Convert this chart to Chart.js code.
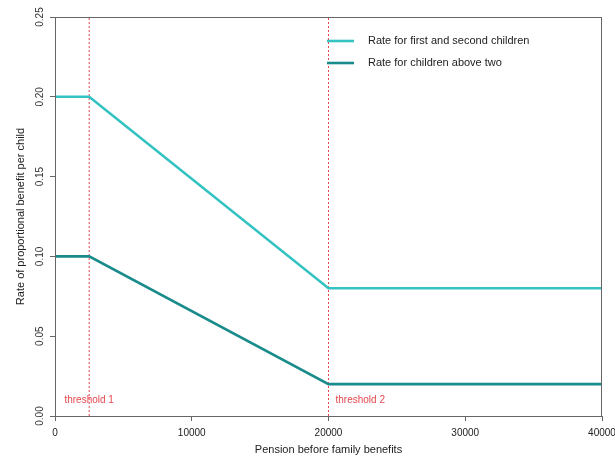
<!DOCTYPE html>
<html lang="en">
<head>
    <meta charset="utf-8">
    <title>Proportional benefit per child</title>
    <script src="https://cdn.jsdelivr.net/npm/chart.js@4.4.0/dist/chart.umd.min.js"></script>
    <style>
        body { margin: 0; background: #fff; }
        canvas { display: block; }
    </style>
</head>
<body>
<canvas id="rateChart" width="615" height="463"></canvas>
<script>
    // data
    let pension = [0, 2500, 20000, 40000];
    let rateFirstSecond = [0.20, 0.20, 0.08, 0.08];
    let rateAboveTwo = [0.10, 0.10, 0.02, 0.02];
    let thresholds = [2500, 20000];
    let thresholdNames = ["threshold 1", "threshold 2"];
    let seriesNames = ["Rate for first and second children", "Rate for children above two"];
    let xTicks = [0, 10000, 20000, 30000, 40000];
    let yTicks = [0, 0.05, 0.10, 0.15, 0.20, 0.25];

    const lightTeal = '#35C2C2';
    const darkTeal = '#198B8B';
    const red = '#E5474F';
    const axisGrey = '#666';
    const fontFam = '"Liberation Sans", Arial, sans-serif';

    function toPoints(xs, ys) {
        return xs.map((x, i) => ({x: x, y: ys[i]}));
    }

    let datasets = [
        {
            label: seriesNames[0],
            data: toPoints(pension, rateFirstSecond),
            borderColor: lightTeal,
            borderWidth: 2.6,
            pointRadius: 0
        },
        {
            label: seriesNames[1],
            data: toPoints(pension, rateAboveTwo),
            borderColor: darkTeal,
            borderWidth: 2.6,
            pointRadius: 0
        }
    ];
    // vertical dashed threshold lines
    for (const t of thresholds) {
        datasets.push({
            label: 'thr',
            data: [{x: t, y: yTicks[0]}, {x: t, y: yTicks[yTicks.length - 1]}],
            borderColor: red,
            borderWidth: 1,
            borderDash: [2, 2],
            pointRadius: 0
        });
    }

    // box around plot, threshold labels and legend inside the plot
    const extras = {
        id: 'extras',
        afterDatasetsDraw(chart) {
            const ctx = chart.ctx;
            const a = chart.chartArea;
            const xs = chart.scales.x, ys = chart.scales.y;
            ctx.save();
            ctx.strokeStyle = axisGrey;
            ctx.lineWidth = 1;
            ctx.strokeRect(a.left + 0.5, a.top + 0.5, a.right - a.left - 1, a.bottom - a.top);

            ctx.font = '10px ' + fontFam;
            ctx.fillStyle = red;
            ctx.textBaseline = 'middle';
            const ty = ys.getPixelForValue(0.01);
            ctx.textAlign = 'center';
            ctx.fillText(thresholdNames[0], xs.getPixelForValue(thresholds[0]), ty);
            ctx.textAlign = 'left';
            ctx.fillText(thresholdNames[1], xs.getPixelForValue(thresholds[1]) + 7, ty);

            ctx.font = '11px ' + fontFam;
            ctx.fillStyle = '#222';
            const cols = [lightTeal, darkTeal];
            for (let i = 0; i < 2; i++) {
                const y = 41 + i * 22;
                ctx.strokeStyle = cols[i];
                ctx.lineWidth = 2.6;
                ctx.beginPath();
                ctx.moveTo(327, y);
                ctx.lineTo(354, y);
                ctx.stroke();
                ctx.fillText(seriesNames[i], 368, y);
            }
            ctx.restore();
        }
    };

    let ctx = document.getElementById('rateChart').getContext('2d');
    let rateChart = new Chart(ctx, {
        type: 'line',
        data: {datasets: datasets},
        plugins: [extras],
        options: {
            responsive: false,
            animation: false,
            layout: {padding: {left: 0, top: 17, right: 13, bottom: 0}},
            plugins: {legend: {display: false}, tooltip: {enabled: false}},
            scales: {
                x: {
                    type: 'linear',
                    min: xTicks[0],
                    max: xTicks[xTicks.length - 1],
                    afterFit: s => { s.height = 47; s.paddingLeft = 0; s.paddingRight = 0; },
                    afterBuildTicks: s => { s.ticks = xTicks.map(v => ({value: v})); },
                    ticks: {
                        callback: v => String(v),
                        color: '#222',
                        font: {family: fontFam, size: 10},
                        padding: 6,
                        maxRotation: 0
                    },
                    grid: {drawOnChartArea: false, drawTicks: true, tickLength: 5, color: axisGrey},
                    border: {color: axisGrey},
                    title: {
                        display: true,
                        text: 'Pension before family benefits',
                        color: '#222',
                        font: {family: fontFam, size: 11},
                        padding: {top: 0, bottom: 6}
                    }
                },
                y: {
                    min: yTicks[0],
                    max: yTicks[yTicks.length - 1],
                    afterFit: s => { s.width = 55; },
                    afterBuildTicks: s => { s.ticks = yTicks.map(v => ({value: v})); },
                    ticks: {
                        callback: v => v.toFixed(2),
                        color: '#333',
                        font: {family: fontFam, size: 10},
                        minRotation: 90,
                        maxRotation: 90,
                        crossAlign: 'center',
                        padding: 0
                    },
                    grid: {drawOnChartArea: false, drawTicks: true, tickLength: 5, color: axisGrey},
                    border: {color: axisGrey},
                    title: {
                        display: true,
                        text: 'Rate of proportional benefit per child',
                        color: '#222',
                        font: {family: fontFam, size: 11},
                        padding: {top: 14, bottom: 0}
                    }
                }
            }
        }
    });
</script>
</body>
</html>
